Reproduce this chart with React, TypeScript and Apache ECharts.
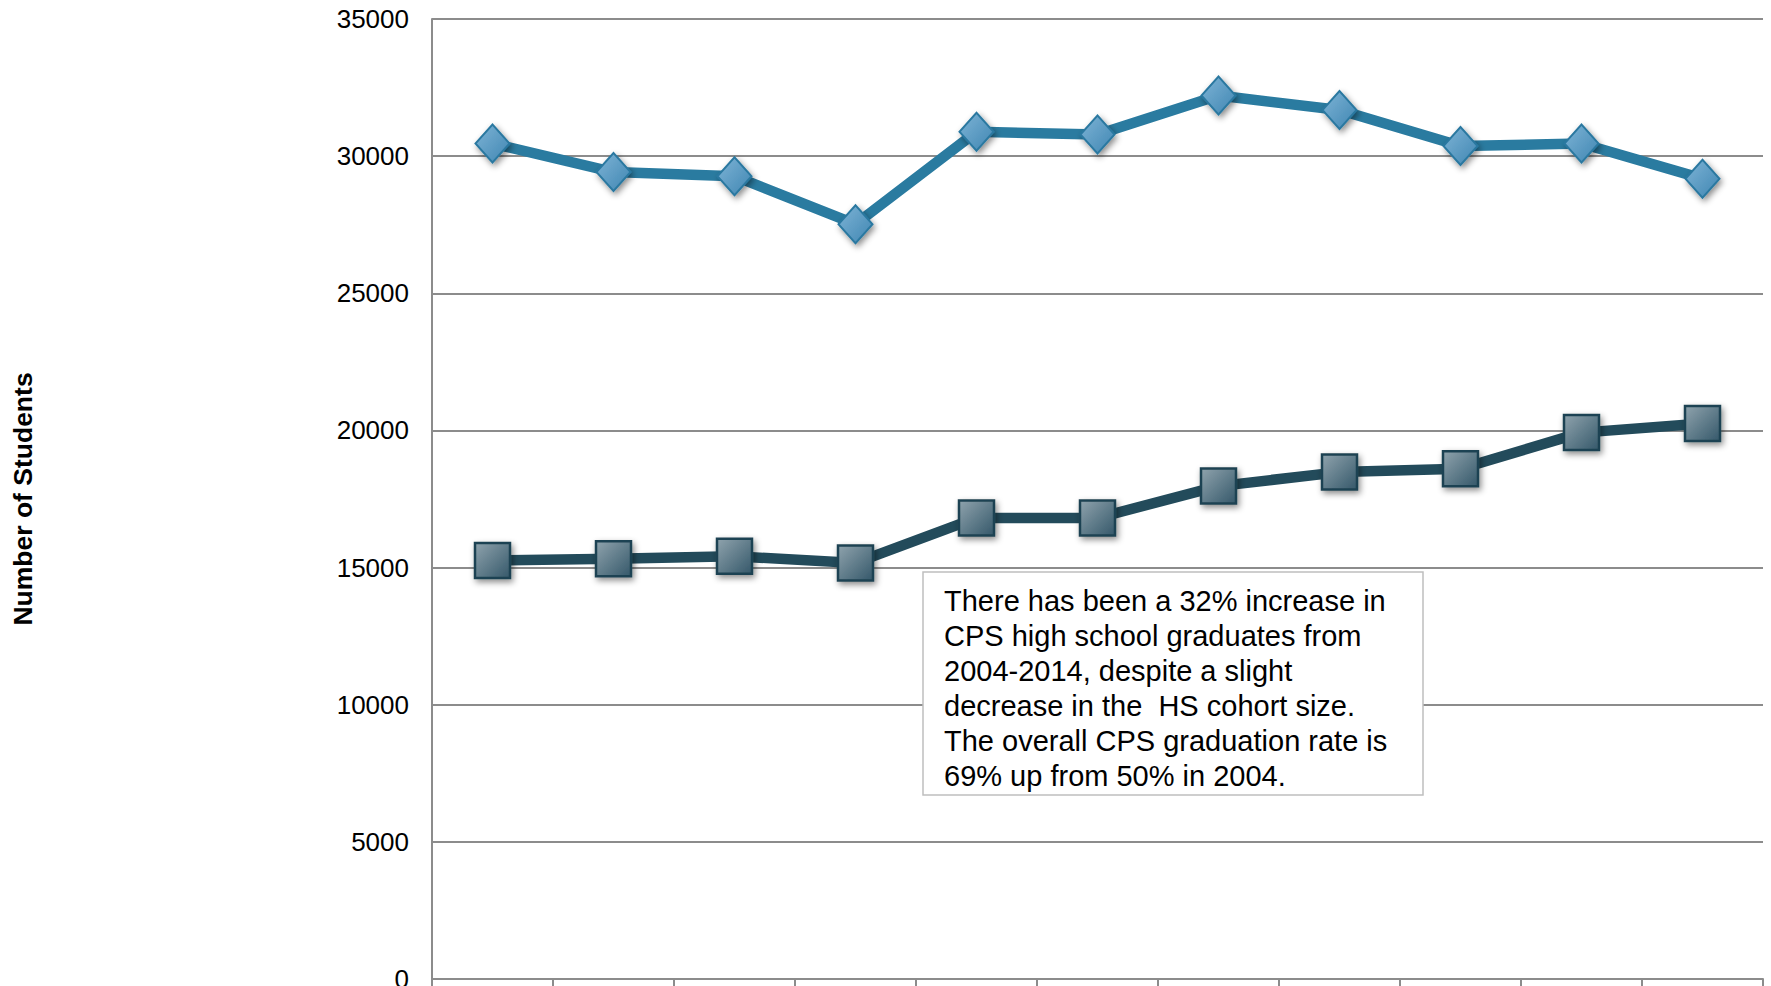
import React, { useEffect, useRef } from "react";
import * as echarts from "echarts";

const years = ["2004", "2005", "2006", "2007", "2008", "2009", "2010", "2011", "2012", "2013", "2014"];
const cohortSize = [30460, 29420, 29270, 27520, 30890, 30790, 32210, 31680, 30370, 30460, 29180];
const graduates = [15260, 15320, 15410, 15170, 16810, 16810, 17970, 18480, 18600, 19920, 20250];
const yTicks = { min: 0, max: 35000, interval: 5000 };
const yAxisTitle = "Number of Students";
const noteLines = [
  "There has been a 32% increase in",
  "CPS high school graduates from",
  "2004-2014, despite a slight",
  "decrease in the  HS cohort size.",
  "The overall CPS graduation rate is",
  "69% up from 50% in 2004.",
];

const FONT = "'Liberation Sans', Arial, Helvetica, sans-serif";
const GRID = "#8c8c8c";

export default function App() {
  const ref = useRef<HTMLDivElement>(null);

  useEffect(() => {
    document.body.style.margin = "0";
    if (!ref.current) return;
    const chart = echarts.init(ref.current, null, { renderer: "svg" });
    const shadow = {
      shadowBlur: 6,
      shadowColor: "rgba(0,0,0,0.45)",
      shadowOffsetX: 2,
      shadowOffsetY: 3,
    };
    chart.setOption({
      animation: false,
      backgroundColor: "#ffffff",
      grid: { left: 432, right: 8, top: 19, bottom: 7, outerBoundsMode: "none" },
      xAxis: {
        type: "category",
        data: years,
        boundaryGap: true,
        axisLine: { show: true, lineStyle: { color: GRID, width: 2 } },
        axisTick: { show: true, length: 10, lineStyle: { color: GRID, width: 2 } },
        axisLabel: { show: false },
        splitLine: { show: false },
      },
      yAxis: {
        type: "value",
        min: yTicks.min,
        max: yTicks.max,
        interval: yTicks.interval,
        name: yAxisTitle,
        nameLocation: "middle",
        nameGap: 396,
        nameMoveOverlap: false,
        nameTextStyle: { fontFamily: FONT, fontSize: 26.5, fontWeight: "bold", color: "#000" },
        axisLine: { show: true, lineStyle: { color: GRID, width: 2 } },
        axisTick: { show: false },
        axisLabel: {
          fontFamily: FONT,
          fontSize: 26,
          color: "#000",
          margin: 23,
          formatter: (v: number) => String(v),
        },
        splitLine: { show: true, lineStyle: { color: GRID, width: 2 } },
      },
      series: [
        {
          name: "HS cohort size",
          type: "line",
          data: cohortSize,
          symbol: "diamond",
          symbolSize: [34, 38],
          lineStyle: { color: "#2a7ba0", width: 10.5 },
          itemStyle: {
            color: {
              type: "linear", x: 0, y: 0, x2: 1, y2: 1,
              colorStops: [
                { offset: 0, color: "#7fb4d6" },
                { offset: 1, color: "#3f86b2" },
              ],
            },
            borderColor: "#2a78a0",
            borderWidth: 2,
            ...shadow,
          },
          z: 3,
        },
        {
          name: "CPS high school graduates",
          type: "line",
          data: graduates,
          symbol: "rect",
          symbolSize: [35, 35],
          lineStyle: { color: "#234b5b", width: 10.5 },
          itemStyle: {
            color: {
              type: "linear", x: 0, y: 0, x2: 1, y2: 1,
              colorStops: [
                { offset: 0, color: "#8fa3ad" },
                { offset: 1, color: "#35586a" },
              ],
            },
            borderColor: "#1f4352",
            borderWidth: 2.5,
            ...shadow,
          },
          z: 3,
        },
      ],
      graphic: [
        {
          type: "rect",
          z: 100,
          shape: { x: 923, y: 572, width: 500, height: 223 },
          style: { fill: "#ffffff", stroke: "#bfbfbf", lineWidth: 1.5 },
        },
        {
          type: "text",
          z: 101,
          x: 944,
          y: 583,
          style: {
            text: noteLines.join("\n"),
            fontFamily: FONT,
            fontSize: 29,
            lineHeight: 35,
            fill: "#000",
            verticalAlign: "top",
            align: "left",
          },
        },
      ],
    });
    return () => chart.dispose();
  }, []);

  return <div ref={ref} style={{ width: 1771, height: 986 }} />;
}
